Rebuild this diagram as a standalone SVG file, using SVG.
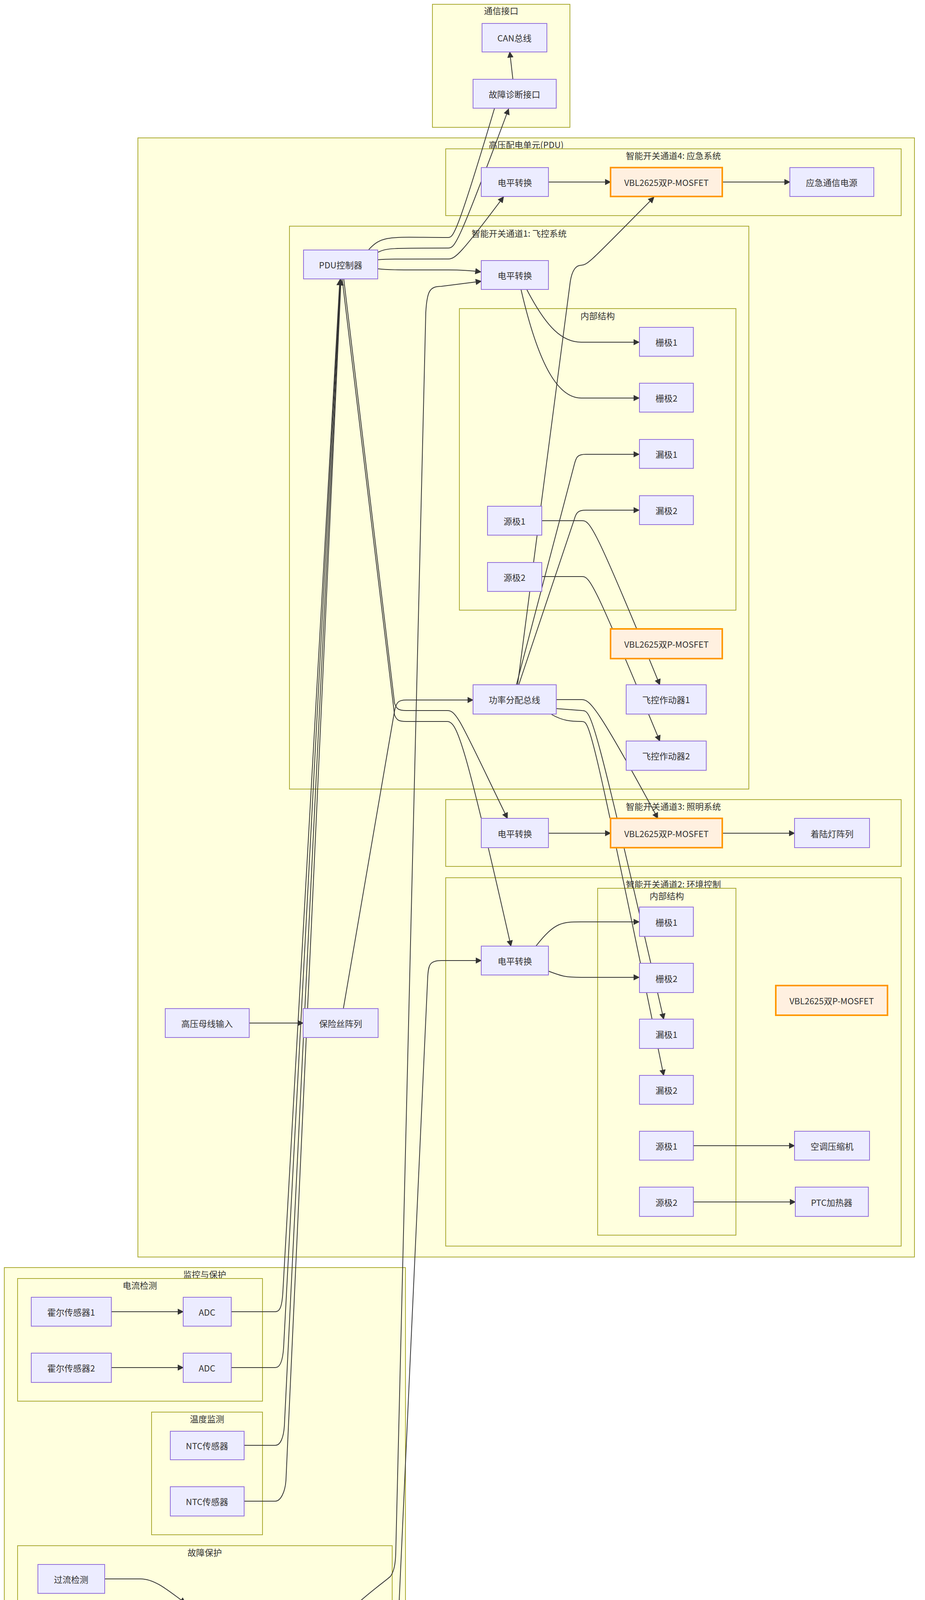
<svg xmlns="http://www.w3.org/2000/svg" width="2368" height="4340" viewBox="0 0 2368 4340">
<style>
.c{fill:#ffffde;stroke:#aaaa33;stroke-width:2}
.n{fill:#ececff;stroke:#9370db;stroke-width:2}
.v{fill:#fff0e0;stroke:#ff9800;stroke-width:4}
text{font-family:"Noto Sans CJK SC","Liberation Sans",sans-serif;font-size:22px;fill:#333;text-anchor:middle;dominant-baseline:central}
.e{fill:none;stroke:#333;stroke-width:2}
</style>
<defs><marker id="a" viewBox="0 0 10 10" refX="9" refY="5" markerWidth="8" markerHeight="8" orient="auto"><path d="M0,0L10,5L0,10z" fill="#333"/></marker></defs>
<rect width="2368" height="4340" fill="#fff"/>
<g id="clusters">
<rect class="c" x="1107" y="11" width="352" height="315"/><text x="1283" y="26">通信接口</text>
<rect class="c" x="353" y="353" width="1988" height="2865"/><text x="1347" y="369">高压配电单元(PDU)</text>
<rect class="c" x="1141" y="381" width="1166" height="171"/><text x="1724" y="397">智能开关通道4: 应急系统</text>
<rect class="c" x="741" y="579" width="1176" height="1441"/><text x="1329" y="596">智能开关通道1: 飞控系统</text>
<rect class="c" x="1176" y="790" width="708" height="772"/><text x="1530" y="807">内部结构</text>
<rect class="c" x="1141" y="2047" width="1166" height="171"/><text x="1724" y="2063">智能开关通道3: 照明系统</text>
<rect class="c" x="1141" y="2247" width="1166" height="943"/><text x="1724" y="2262">智能开关通道2: 环境控制</text>
<rect class="c" x="1530" y="2274" width="354" height="888"/><text x="1707" y="2292">内部结构</text>
<rect class="c" x="11" y="3245" width="1027" height="1053"/><text x="524" y="3261">监控与保护</text>
<rect class="c" x="45" y="3273" width="627" height="314"/><text x="358" y="3289">电流检测</text>
<rect class="c" x="388" y="3615" width="284" height="314"/><text x="530" y="3631">温度监测</text>
<rect class="c" x="45" y="3957" width="959" height="313"/><text x="524" y="3973">故障保护</text>
</g>
<g id="edges">
<path class="e" marker-end="url(#a)" d="M1313,203L1305,133"/>
<path class="e" d="M944,639C980,600 1000,608 1148,608C1160,608 1170,600 1266,277"/>
<path class="e" marker-end="url(#a)" d="M967,646C990,635 1000,635 1148,635C1165,635 1175,620 1302,279"/>
<path class="e" marker-end="url(#a)" d="M967,665C990,663 1000,663 1148,663C1165,663 1180,650 1289,504"/>
<path class="e" marker-end="url(#a)" d="M967,688C990,691 1000,691 1148,691C1180,691 1200,692 1231,696"/>
<path class="e" marker-end="url(#a)" d="M1404,466L1563,466"/>
<path class="e" marker-end="url(#a)" d="M1849,466L2022,466"/>
<path class="e" marker-end="url(#a)" d="M1349,742C1400,840 1440,876 1488,876L1636,876"/>
<path class="e" marker-end="url(#a)" d="M1334,742C1380,940 1430,1019 1488,1019L1636,1019"/>
<path class="e" marker-end="url(#a)" d="M1325,1753L1460,720C1465,690 1475,679 1488,679C1505,679 1520,660 1674,505"/>
<path class="e" marker-end="url(#a)" d="M1322,1753L1470,1190C1475,1170 1478,1163 1500,1163L1636,1163"/>
<path class="e" marker-end="url(#a)" d="M1328,1753L1470,1330C1475,1312 1480,1306 1500,1306L1636,1306"/>
<path class="e" marker-end="url(#a)" d="M1387,1333L1490,1333C1510,1333 1520,1340 1689,1753"/>
<path class="e" marker-end="url(#a)" d="M1387,1476L1490,1476C1510,1476 1520,1490 1689,1897"/>
<path class="e" marker-end="url(#a)" d="M1424,1791L1490,1791C1510,1791 1530,1810 1684,2095"/>
<path class="e" marker-end="url(#a)" d="M1424,1814L1490,1819C1515,1819 1520,1830 1699,2609"/>
<path class="e" marker-end="url(#a)" d="M1412,1829C1440,1845 1460,1847 1490,1847C1510,1847 1515,1860 1699,2753"/>
<path class="e" marker-end="url(#a)" d="M1404,2133L1563,2133"/>
<path class="e" marker-end="url(#a)" d="M1849,2133L2034,2133"/>
<path class="e" marker-end="url(#a)" d="M1372,2422C1420,2360 1440,2360 1488,2360L1636,2360"/>
<path class="e" marker-end="url(#a)" d="M1404,2486C1440,2500 1450,2502 1488,2502L1636,2502"/>
<path class="e" marker-end="url(#a)" d="M1775,2933L2034,2933"/>
<path class="e" marker-end="url(#a)" d="M1775,3077L2036,3077"/>
<path class="e" marker-end="url(#a)" d="M638,2619L776,2619"/>
<path class="e" marker-end="url(#a)" d="M879,2582L1010,1820C1015,1797 1020,1792 1040,1792L1211,1792"/>
<path class="e" marker-end="url(#a)" d="M880,714L1010,1800C1015,1815 1020,1819 1040,1819L1145,1819C1170,1819 1180,1850 1299,2095"/>
<path class="e" marker-end="url(#a)" d="M876,714L1010,1830C1015,1843 1020,1847 1040,1847L1145,1847C1170,1847 1190,1900 1308,2422"/>
<path class="e" marker-end="url(#a)" d="M592,3358L705,3358C718,3358 722,3340 724,3310L870,716"/>
<path class="e" marker-end="url(#a)" d="M592,3501L705,3501C718,3501 724,3480 726,3450L871,716"/>
<path class="e" marker-end="url(#a)" d="M625,3700L705,3700C718,3700 726,3680 728,3650L872,716"/>
<path class="e" marker-end="url(#a)" d="M625,3843L705,3843C718,3843 730,3820 732,3790L873,716"/>
<path class="e" marker-end="url(#a)" d="M285,3358L469,3358"/>
<path class="e" marker-end="url(#a)" d="M285,3501L469,3501"/>
<path class="e" marker-end="url(#a)" d="M268,4042L360,4042C400,4042 440,4080 475,4104"/>
<path class="e" marker-end="url(#a)" d="M268,4186L370,4186C400,4186 420,4178 445,4171"/>
<path class="e" marker-end="url(#a)" d="M617,4142L787,4142"/>
<path class="e" marker-end="url(#a)" d="M916,4104C960,4065 990,4045 1000,4035C1010,4020 1012,4000 1013,3980L1090,800C1093,745 1100,733 1130,733L1232,720"/>
<path class="e" marker-end="url(#a)" d="M940,4180C980,4205 1000,4215 1008,4205C1015,4195 1018,4170 1020,4140L1095,2500C1097,2470 1100,2459 1130,2459L1232,2459"/>
</g>
<g id="n-can"><rect class="n" x="1234" y="60" width="166" height="73"/><text x="1317" y="96">CAN总线</text></g>
<g id="n-diag"><rect class="n" x="1211" y="203" width="213" height="74"/><text x="1317" y="240">故障诊断接口</text></g>
<g id="n-lv4"><rect class="n" x="1232" y="429" width="172" height="74"/><text x="1318" y="466">电平转换</text></g>
<g id="n-vbl4"><rect class="v" x="1563" y="429" width="286" height="74"/><text x="1706" y="466">VBL2625双P-MOSFET</text></g>
<g id="n-emg"><rect class="n" x="2022" y="429" width="215" height="74"/><text x="2129" y="466">应急通信电源</text></g>
<g id="n-pdu"><rect class="n" x="777" y="640" width="190" height="74"/><text x="872" y="677">PDU控制器</text></g>
<g id="n-lv1"><rect class="n" x="1232" y="667" width="172" height="74"/><text x="1318" y="704">电平转换</text></g>
<g id="n-g1"><rect class="n" x="1637" y="838" width="138" height="74"/><text x="1706" y="875">栅极1</text></g>
<g id="n-g2"><rect class="n" x="1637" y="981" width="138" height="74"/><text x="1706" y="1018">栅极2</text></g>
<g id="n-d1"><rect class="n" x="1637" y="1125" width="138" height="74"/><text x="1706" y="1162">漏极1</text></g>
<g id="n-d2"><rect class="n" x="1637" y="1269" width="138" height="74"/><text x="1706" y="1306">漏极2</text></g>
<g id="n-s1"><rect class="n" x="1248" y="1296" width="139" height="74"/><text x="1317" y="1333">源极1</text></g>
<g id="n-s2"><rect class="n" x="1248" y="1440" width="139" height="74"/><text x="1317" y="1477">源极2</text></g>
<g id="n-vbl1"><rect class="v" x="1563" y="1610" width="286" height="76"/><text x="1706" y="1648">VBL2625双P-MOSFET</text></g>
<g id="n-bus"><rect class="n" x="1211" y="1753" width="213" height="75"/><text x="1317" y="1790">功率分配总线</text></g>
<g id="n-act1"><rect class="n" x="1603" y="1753" width="205" height="75"/><text x="1705" y="1790">飞控作动器1</text></g>
<g id="n-act2"><rect class="n" x="1603" y="1897" width="205" height="75"/><text x="1705" y="1934">飞控作动器2</text></g>
<g id="n-lv3"><rect class="n" x="1232" y="2095" width="172" height="75"/><text x="1318" y="2133">电平转换</text></g>
<g id="n-vbl3"><rect class="v" x="1563" y="2095" width="286" height="75"/><text x="1706" y="2133">VBL2625双P-MOSFET</text></g>
<g id="n-land"><rect class="n" x="2034" y="2095" width="192" height="75"/><text x="2130" y="2133">着陆灯阵列</text></g>
<g id="n-g1b"><rect class="n" x="1637" y="2322" width="138" height="75"/><text x="1706" y="2360">栅极1</text></g>
<g id="n-lv2"><rect class="n" x="1232" y="2422" width="172" height="74"/><text x="1318" y="2459">电平转换</text></g>
<g id="n-g2b"><rect class="n" x="1637" y="2466" width="138" height="75"/><text x="1706" y="2504">栅极2</text></g>
<g id="n-vbl2"><rect class="v" x="1986" y="2523" width="286" height="76"/><text x="2129" y="2561">VBL2625双P-MOSFET</text></g>
<g id="n-hv"><rect class="n" x="423" y="2582" width="215" height="74"/><text x="530" y="2619">高压母线输入</text></g>
<g id="n-fuse"><rect class="n" x="776" y="2582" width="192" height="74"/><text x="872" y="2619">保险丝阵列</text></g>
<g id="n-d1b"><rect class="n" x="1637" y="2609" width="138" height="75"/><text x="1706" y="2647">漏极1</text></g>
<g id="n-d2b"><rect class="n" x="1637" y="2753" width="138" height="74"/><text x="1706" y="2790">漏极2</text></g>
<g id="n-s1b"><rect class="n" x="1637" y="2896" width="138" height="74"/><text x="1706" y="2933">源极1</text></g>
<g id="n-ac"><rect class="n" x="2034" y="2896" width="192" height="74"/><text x="2130" y="2933">空调压缩机</text></g>
<g id="n-s2b"><rect class="n" x="1637" y="3039" width="138" height="75"/><text x="1706" y="3077">源极2</text></g>
<g id="n-ptc"><rect class="n" x="2036" y="3039" width="187" height="75"/><text x="2129" y="3077">PTC加热器</text></g>
<g id="n-hall1"><rect class="n" x="80" y="3321" width="205" height="74"/><text x="182" y="3358">霍尔传感器1</text></g>
<g id="n-adc1"><rect class="n" x="469" y="3321" width="123" height="74"/><text x="530" y="3358">ADC</text></g>
<g id="n-hall2"><rect class="n" x="80" y="3464" width="205" height="75"/><text x="182" y="3501">霍尔传感器2</text></g>
<g id="n-adc2"><rect class="n" x="469" y="3464" width="123" height="75"/><text x="530" y="3501">ADC</text></g>
<g id="n-ntc1"><rect class="n" x="436" y="3664" width="189" height="73"/><text x="530" y="3700">NTC传感器</text></g>
<g id="n-ntc2"><rect class="n" x="436" y="3806" width="189" height="75"/><text x="530" y="3843">NTC传感器</text></g>
<g id="n-oc"><rect class="n" x="97" y="4005" width="171" height="74"/><text x="182" y="4042">过流检测</text></g>
<g id="n-latch"><rect class="n" x="445" y="4104" width="172" height="75"/><text x="531" y="4142">故障锁存</text></g>
<g id="n-off"><rect class="n" x="787" y="4104" width="172" height="75"/><text x="873" y="4142">关断控制</text></g>
<g id="n-ot"><rect class="n" x="97" y="4148" width="171" height="75"/><text x="182" y="4186">过温检测</text></g>
</svg>
